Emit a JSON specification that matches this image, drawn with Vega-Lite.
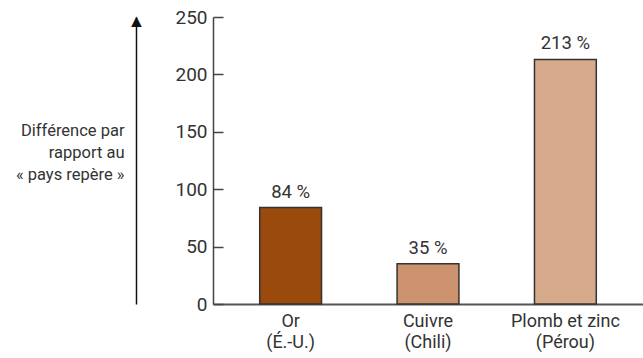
{
  "$schema": "https://vega.github.io/schema/vega-lite/v6.json",
  "width": 430,
  "height": 287,
  "autosize": {"type": "none"},
  "padding": {"left": 213, "top": 17, "right": 0, "bottom": 54},
  "background": "white",
  "config": {
    "view": {"stroke": null},
    "font": "Roboto, Liberation Sans, sans-serif"
  },
  "data": {
    "values": [
      {"cat": "Or|(É.-U.)", "value": 84, "txt": "84 %"},
      {"cat": "Cuivre|(Chili)", "value": 35, "txt": "35 %"},
      {"cat": "Plomb et zinc|(Pérou)", "value": 213, "txt": "213 %"}
    ]
  },
  "encoding": {
    "x": {
      "field": "cat", "type": "nominal", "sort": null,
      "scale": {"paddingInner": 0.55, "paddingOuter": 0.34},
      "axis": {
        "title": null, "labelAngle": 0, "ticks": false,
        "labelExpr": "split(datum.label, '|')",
        "labelFontSize": 18, "labelLineHeight": 21, "labelPadding": 8,
        "labelColor": "#333", "domainColor": "#555", "domainWidth": 2
      }
    },
    "y": {
      "field": "value", "type": "quantitative",
      "scale": {"domain": [0, 250], "nice": false}
    }
  },
  "layer": [
    {
      "mark": {"type": "bar", "stroke": "#333", "strokeWidth": 1.5},
      "encoding": {
        "color": {
          "field": "cat", "type": "nominal", "legend": null,
          "scale": {
            "domain": ["Or|(É.-U.)", "Cuivre|(Chili)", "Plomb et zinc|(Pérou)"],
            "range": ["#9b4a0e", "#cd926e", "#d6aa8a"]
          }
        },
        "y": {
          "field": "value", "type": "quantitative",
          "axis": {
            "title": null, "values": [0, 50, 100, 150, 200, 250],
            "grid": false, "tickSize": -10, "tickColor": "#444", "tickWidth": 1.5,
            "labelPadding": 16, "labelFontSize": 19, "labelColor": "#333",
            "domainColor": "#444", "domainWidth": 1.5
          }
        }
      }
    },
    {
      "mark": {"type": "text", "baseline": "bottom", "dy": -6, "fontSize": 18.5, "color": "#333"},
      "encoding": {
        "text": {"field": "txt"},
        "y": {
          "field": "value", "type": "quantitative",
          "axis": {
            "orient": "left", "offset": 77, "values": [246],
            "labelExpr": "'▲'", "labelAlign": "center", "labelBaseline": "middle",
            "labelPadding": 0, "labelFontSize": 18, "labelColor": "#111",
            "labelOverlap": false, "labelFlush": false,
            "ticks": false, "grid": false,
            "domainColor": "#111", "domainWidth": 1.5,
            "title": ["Différence par", "rapport au", "« pays repère »"],
            "titleAngle": 0, "titleAlign": "right", "titleBaseline": "top",
            "titleX": -12, "titleY": 105, "titleFontSize": 16.5,
            "titleFontWeight": "normal", "titleLineHeight": 22, "titleColor": "#333"
          }
        }
      }
    }
  ],
  "resolve": {"axis": {"y": "independent"}}
}
